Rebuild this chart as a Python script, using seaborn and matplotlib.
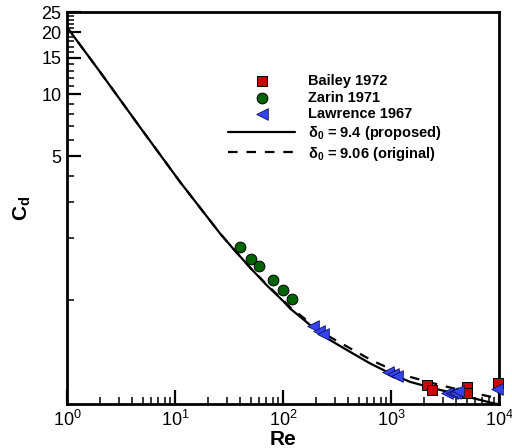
import numpy as np
import pandas as pd
import seaborn as sns
import matplotlib.pyplot as plt
from matplotlib.ticker import FixedLocator, FixedFormatter, NullFormatter, LogLocator

# drag curves
re_curve = [1, 2, 4.74, 11.1, 26, 34.7, 50, 70.6, 100, 116, 178, 272, 417, 639, 979, 1500, 2450, 5055, 8800, 10000]
cd_proposed = [21.1, 12.9, 6.9, 3.75, 2.11, 1.77, 1.43, 1.18, 0.99, 0.911, 0.757, 0.640, 0.561, 0.493, 0.441, 0.401, 0.374, 0.340, 0.316, 0.312]
cd_original = [21.1, 12.9, 6.9, 3.75, 2.11, 1.77, 1.43, 1.19, 1.00, 0.925, 0.774, 0.662, 0.584, 0.515, 0.464, 0.424, 0.395, 0.359, 0.338, 0.334]

# experimental points
bailey_re = [2140, 2400, 5055, 5055, 9790]
bailey_cd = [0.387, 0.368, 0.378, 0.356, 0.396]
zarin_re = [40, 50, 60, 80, 100, 120]
zarin_cd = [1.82, 1.59, 1.46, 1.25, 1.12, 1.01]
lawrence_re = [190, 215, 232, 944, 1050, 1143, 3280, 3650, 3915, 4200, 9530]
lawrence_cd = [0.748, 0.711, 0.684, 0.449, 0.438, 0.428, 0.356, 0.353, 0.356, 0.362, 0.372]

y_major = [5, 10, 15, 20, 25]
y_minor = [1, 2, 3, 4, 6, 7, 8, 9, 11, 12, 13, 14, 16, 17, 18, 19, 21, 22, 23, 24]

sns.set_style('ticks')
plt.rcParams['font.family'] = ['Liberation Sans', 'DejaVu Sans']
plt.rcParams['mathtext.fontset'] = 'custom'
plt.rcParams['mathtext.rm'] = 'Liberation Sans'
plt.rcParams['mathtext.it'] = 'Liberation Sans'
plt.rcParams['mathtext.bf'] = 'Liberation Sans:bold'
plt.rcParams['mathtext.default'] = 'regular'
for k in ['text.color', 'axes.labelcolor', 'xtick.color', 'ytick.color', 'axes.edgecolor']:
    plt.rcParams[k] = 'black'

fig = plt.figure(figsize=(5.12, 4.48), dpi=100)
ax = fig.add_axes([0.131, 0.098, 0.844, 0.875])

sns.lineplot(x=re_curve, y=cd_proposed, color='black', lw=1.6, sort=False,
             estimator=None, ax=ax, zorder=2)
sns.lineplot(x=re_curve, y=cd_original, color='black', lw=1.6, sort=False,
             estimator=None, ax=ax, zorder=2)
ax.lines[1].set_dashes((4.3, 4.0))

sns.scatterplot(x=bailey_re, y=bailey_cd, marker='s', s=62, color='#cc0000',
                edgecolor='black', linewidth=0.7, ax=ax, zorder=3, clip_on=False)
sns.scatterplot(x=zarin_re, y=zarin_cd, marker='o', s=60, color='#006400',
                edgecolor='black', linewidth=0.7, ax=ax, zorder=3, clip_on=False)
sns.scatterplot(x=lawrence_re, y=lawrence_cd, marker='<', s=70, color='#3344ee',
                edgecolor='#101060', linewidth=0.6, ax=ax, zorder=4, clip_on=False)

ax.set_xscale('log')
ax.set_yscale('log')
ax.set_xlim(1, 1e4)
ax.set_ylim(0.313, 25)

ax.xaxis.set_major_locator(LogLocator(base=10, numticks=10))
ax.xaxis.set_minor_locator(LogLocator(base=10, subs=np.arange(2, 10), numticks=50))
ax.xaxis.set_minor_formatter(NullFormatter())
ax.yaxis.set_major_locator(FixedLocator(y_major))
ax.yaxis.set_major_formatter(FixedFormatter([str(v) for v in y_major]))
ax.yaxis.set_minor_locator(FixedLocator(y_minor))
ax.yaxis.set_minor_formatter(NullFormatter())

ax.tick_params(which='major', direction='in', length=10, width=1.6, labelsize=13, pad=4,
               top=False, right=False, colors='black')
ax.tick_params(which='minor', direction='in', length=5, width=1.1, top=False, right=False,
               colors='black')
for sp in ax.spines.values():
    sp.set_linewidth(2)
    sp.set_color('black')

ax.set_xlabel('Re', fontsize=15, fontweight='bold', labelpad=0)
ax.set_ylabel(r'C$_\mathbf{d}$', fontsize=15, fontweight='bold', labelpad=6)

# legend
handles = [ax.collections[0], ax.collections[1], ax.collections[2], ax.lines[0], ax.lines[1]]
labels = ['Bailey 1972', 'Zarin 1971', 'Lawrence 1967',
          r'$\delta_0$ = 9.4 (proposed)', r'$\delta_0$ = 9.06 (original)']
ax.legend(handles, labels, loc='upper left', bbox_to_anchor=(0.373, 0.842),
          frameon=False, borderaxespad=0, borderpad=0, handlelength=4.6,
          handletextpad=0.9, labelspacing=0.18,
          prop={'size': 10.5, 'weight': 'bold'})

plt.savefig('out.png', dpi=100)
